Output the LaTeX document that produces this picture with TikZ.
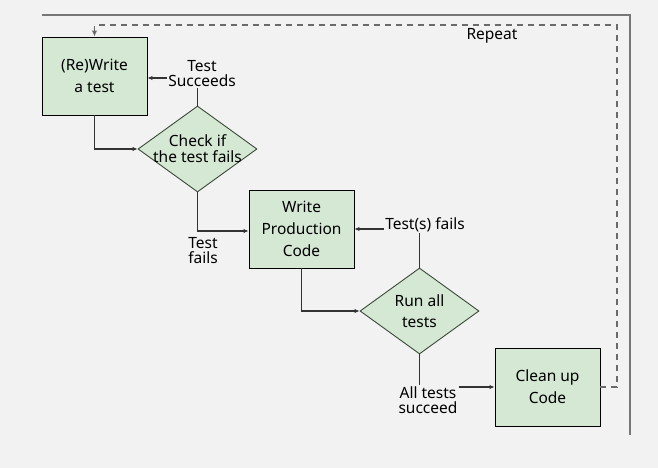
\documentclass[tikz,border=0pt]{standalone}
\usepackage{fontspec}
\setmainfont{Noto Sans}
\usetikzlibrary{shapes.geometric,arrows.meta}
\definecolor{bgc}{HTML}{F2F2F2}
\definecolor{boxfill}{HTML}{D5E8D4}
\definecolor{dborder}{HTML}{3B4A38}
\definecolor{conn}{HTML}{333333}
\definecolor{frame}{HTML}{777777}
\definecolor{dashc}{HTML}{6A6A6A}
\tikzset{
  stepbox/.style={draw=black, line width=0.9pt, fill=boxfill, minimum width=105pt, minimum height=78pt, inner sep=0pt, align=center, font=\fontsize{15.5}{22}\selectfont},
  decbox/.style={draw=dborder, line width=0.9pt, fill=boxfill, shape=diamond, minimum width=119pt, minimum height=86pt, inner sep=0pt},
  dtext/.style={align=center, inner sep=0pt},
  lbl/.style={align=center, inner sep=1pt, font=\fontsize{15.5}{15}\selectfont},
  arr/.style={draw=conn, line width=1.1pt, -{Latex[length=5pt,width=4.5pt]}},
  ln/.style={draw=conn, line width=1.1pt},
  rep/.style={draw=dashc, line width=1.4pt, dash pattern=on 6pt off 5pt, -{Latex[length=6pt,width=5.5pt]}},
  framel/.style={draw=frame, line width=1.6pt}
}
\begin{document}
\begin{tikzpicture}[x=1pt,y=-1pt]
\fill[bgc] (0,0) rectangle (658,468);
\useasboundingbox (0,0) rectangle (658,468);
% frame
\coordinate (f1) at (42,15);
\coordinate (f2) at (630,15);
\coordinate (f3) at (630,435);
\draw[framel] (f1) -- (f2) -- (f3);
% nodes
\node[stepbox] (b1) at (94.5,76) {(Re)Write\\a test};
\node[decbox] (d1) at (197.5,149) {};
\node[dtext, font=\fontsize{15.5}{16}\selectfont] (d1t) at (d1.center) {Check if\\the test fails};
\node[stepbox] (b2) at (301.5,229) {Write\\Production\\Code};
\node[decbox] (d2) at (419.5,311) {};
\node[dtext, font=\fontsize{15.5}{21}\selectfont] (d2t) at (d2.center) {Run all\\tests};
\node[stepbox] (b5) at (547.5,387) {Clean up\\Code};
% labels
\node[lbl] (tsl) at (202,74) {Test\\Succeeds};
\node[lbl] (tfl) at (203,251) {Test\\fails};
\node[lbl] (tsf) at (425,225) {Test(s) fails};
\node[lbl] (ats) at (428,400) {All tests\\succeed};
\node[lbl] (rpl) at (492,36) {Repeat};
% connectors
\draw[ln] (d1.north) -- (tsl.south -| d1.north);
\coordinate (tsa) at ([yshift=-4pt]tsl.west);
\draw[arr] (tsa) -- (tsa -| b1.east);
\draw[arr] (b1.south) |- (d1.west);
\draw[arr] (d1.south) |- ([yshift=-2pt]b2.west);
\draw[arr] (b2.south) |- (d2.west);
\draw[ln] (d2.north) -- (tsf.south -| d2.north);
\coordinate (tfa) at ([yshift=-4pt]tsf.west);
\draw[arr] (tfa) -- (tfa -| b2.east);
\draw[ln] (d2.south) -- (ats.north -| d2.south);
\draw[arr] (ats.east |- b5.west) -- (b5.west);
\coordinate (rc) at (617,25);
\draw[rep] (b5.east) -| (rc) -| (b1.north);
\end{tikzpicture}
\end{document}
